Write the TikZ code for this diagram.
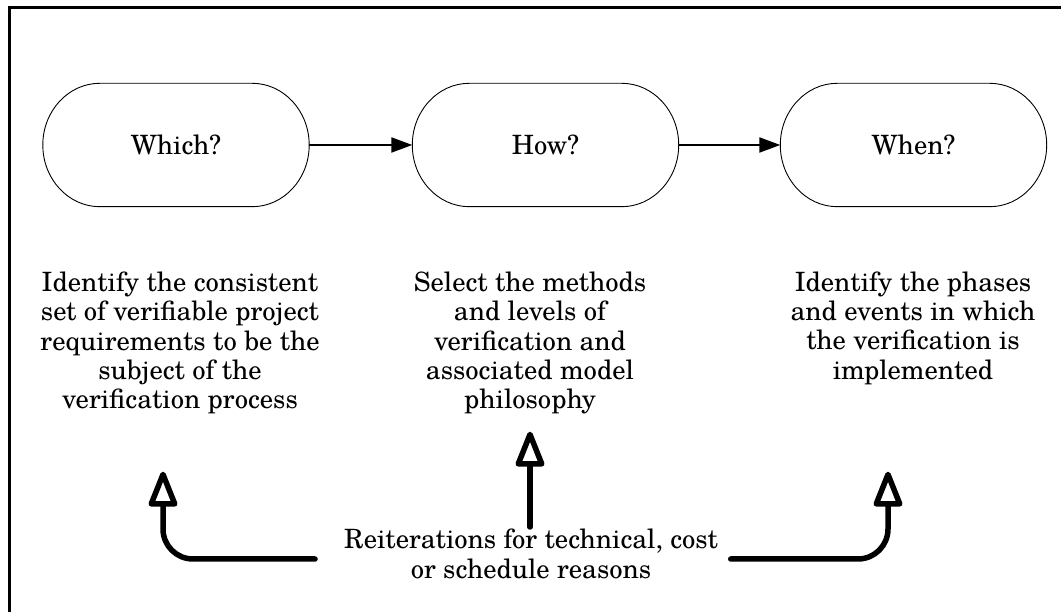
\documentclass[tikz,border=0pt]{standalone}
\usepackage{fontspec}
\setmainfont{TeX Gyre Schola}
\usetikzlibrary{arrows.meta,calc}

% Outline of a stadium with elliptical end caps around node #1
\newcommand{\stadiumoutline}[1]{%
  \draw[capline]
    ($(#1.north west)+(57,0)$) -- ($(#1.north east)+(-57,0)$)
    .. controls ($(#1.north east)+(-25.5,0)$) and ($(#1.east)+(0,34)$) .. (#1.east)
    .. controls ($(#1.east)+(0,-34)$) and ($(#1.south east)+(-25.5,0)$) .. ($(#1.south east)+(-57,0)$)
    -- ($(#1.south west)+(57,0)$)
    .. controls ($(#1.south west)+(25.5,0)$) and ($(#1.west)+(0,-34)$) .. (#1.west)
    .. controls ($(#1.west)+(0,34)$) and ($(#1.north west)+(25.5,0)$) .. ($(#1.north west)+(57,0)$)
    -- cycle;}

\tikzset{
  bigtext/.style={font=\fontsize{26.6}{29.3}\selectfont},
  stadium/.style={bigtext, minimum width=266pt, minimum height=123pt, inner sep=0pt},
  capline/.style={line width=0.9pt},
  desc/.style={bigtext, align=center, inner sep=0pt},
  flow/.style={line width=2pt, -{Triangle[length=21pt, width=15pt]}},
  back/.style={line width=5.5pt, line cap=round, line join=round, rounded corners=30pt,
    -{Triangle[open, length=40pt, width=30pt, round]}},
  frame/.style={line width=3pt}
}

\begin{document}
\begin{tikzpicture}[x=1pt, y=1pt]
  \useasboundingbox (0,0) rectangle (1061,612);

  % frame
  \draw[frame] (9.5,0) -- (9.5,604.5) -- (1061,604.5);

  % the three questions
  \node[stadium] (which) at (176,467) {Which?};
  \node[stadium] (how)   at (545.5,467) {How?};
  \node[stadium] (when)  at (913.5,467) {When?};
  \stadiumoutline{which}
  \stadiumoutline{how}
  \stadiumoutline{when}

  \draw[flow] (which.east) -- (how.west);
  \draw[flow] (how.east) -- (when.west);

  % descriptions
  \node[desc] (whichtxt) at (180,269) {Identify the consistent\\set of verifiable project\\requirements to be the\\subject of the\\verification process};
  \node[desc] (howtxt) at (530,269) {Select the methods\\and levels of\\verification and\\associated model\\philosophy};
  \node[desc] (whentxt) at (913,284) {Identify the phases\\and events in which\\the verification is\\implemented};

  \node[desc] (reason) at (531,58) {Reiterations for technical, cost\\or schedule reasons};

  % feedback arrows
  \coordinate (lstart) at (315,53);
  \coordinate (ltip)   at (163,140.3);
  \coordinate (mstart) at (530,85);
  \coordinate (mtip)   at (530,180.3);
  \coordinate (rstart) at (730.7,53);
  \coordinate (rtip)   at (888,140.3);

  \draw[back] (lstart) -| (ltip);
  \draw[back] (mstart) -- (mtip);
  \draw[back] (rstart) -| (rtip);
\end{tikzpicture}
\end{document}
